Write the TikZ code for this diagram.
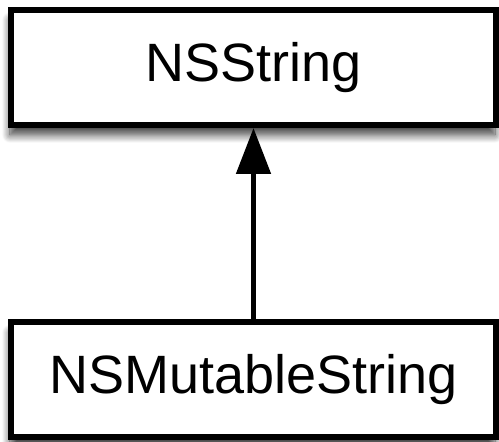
\documentclass[tikz,border=0pt]{standalone}
\usepackage{fontspec}
\setmainfont{Liberation Sans}
\usetikzlibrary{arrows.meta,shadows.blur}

\begin{document}
\begin{tikzpicture}[x=1pt,y=1pt]

% ---------- parameters ----------
\def\W{485}
\def\H{115}
\def\cx{253.5}

% ---------- styles ----------
\tikzset{
  cls/.style={draw=black,line width=6pt,fill=white,
    minimum width=\W pt,minimum height=\H pt,inner sep=0pt,
    font=\fontsize{54}{60}\selectfont},
  shade/.style={blur shadow={shadow xshift=-1pt,shadow yshift=-10pt,
    shadow blur radius=8pt,shadow blur steps=12,shadow opacity=75}},
  inherit/.style={draw=black,line width=5pt,-{Triangle[width=34pt,length=46pt]}}
}

\useasboundingbox (0,0) rectangle (499,442);

% ---------- classes ----------
\node[cls,shade] (nsstring) at (\cx,374.5) {NSString};
\node[cls,shade] (nsmutable) at (\cx,62) {NSMutableString};

% ---------- inheritance ----------
\draw[inherit] (nsmutable.north) -- (nsstring.south);

\end{tikzpicture}
\end{document}
